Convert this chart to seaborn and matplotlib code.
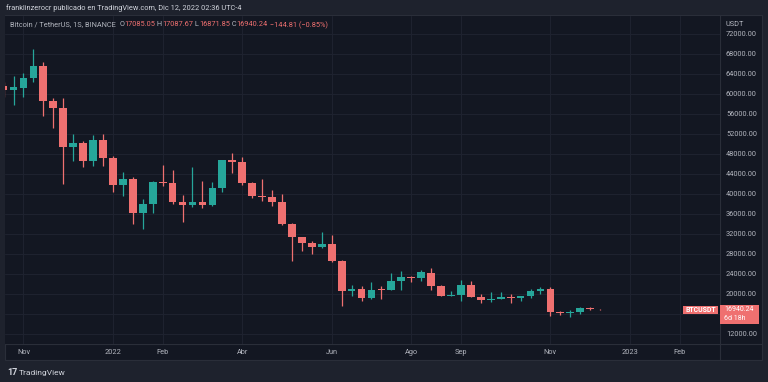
import numpy as np
import pandas as pd
import seaborn as sns
import matplotlib.pyplot as plt
from matplotlib.patches import Rectangle
from matplotlib.lines import Line2D

# velas semanales BTCUSDT (Binance), lunes de cada semana
weeks = pd.date_range("2021-10-18", "2022-12-12", freq="7D").strftime("%Y-%m-%d").tolist()
opens = [61530, 60860, 61300, 63270, 65500, 58620, 57270, 49400, 50100, 46680,
         50780, 47290, 41860, 43080, 36280, 37900, 42400, 42200, 38300, 37700,
         38420, 37780, 41260, 46820, 46400, 42160, 39680, 39450, 38470, 34060,
         31300, 30290, 29450, 29920, 26570, 20550, 21030, 19300, 20850, 20790,
         22580, 23300, 23180, 24300, 21520, 19560, 19830, 21830, 19420, 18800,
         19050, 19380, 19180, 19570, 20630, 20900, 16330, 16280, 16430, 17120,
         17085.05]
highs = [62500, 63700, 64270, 69000, 66500, 59300, 59200, 52000, 50600, 51800,
         52100, 47570, 44500, 43500, 38920, 42650, 45820, 44760, 39840, 45400,
         42600, 42330, 46830, 48190, 47450, 42420, 43000, 40800, 39980, 34240,
         31330, 30670, 32400, 31780, 26900, 21860, 21540, 22500, 21600, 24280,
         24670, 23650, 24900, 25210, 21820, 20580, 22800, 22670, 19960, 20390,
         20470, 19950, 19700, 21090, 21480, 21470, 16700, 16810, 17320, 17420,
         17087.67]
lows = [59500, 57800, 59400, 62330, 55600, 53260, 42000, 46670, 45400, 45560,
        45680, 40500, 39650, 34000, 32920, 36250, 41700, 38000, 34320, 37400,
        37150, 37580, 40470, 44200, 41870, 39200, 38540, 37700, 33710, 26700,
        28630, 28020, 29280, 26500, 17620, 19640, 18630, 19050, 18910, 20730,
        20710, 22400, 22660, 20760, 19520, 19520, 18540, 19320, 18130, 18470,
        18950, 18190, 18650, 19250, 20050, 15590, 15820, 15480, 16000, 16730,
        16871.85]
closes = [60860, 61300, 63270, 65500, 58620, 57270, 49400, 50100, 46680, 50780,
          47290, 41860, 43080, 36280, 37900, 42400, 42200, 38300, 37700, 38420,
          37780, 41260, 46820, 46400, 42160, 39680, 39450, 38470, 34060, 31300,
          30290, 29450, 29920, 26570, 20550, 21030, 19300, 20850, 20790, 22580,
          23300, 23180, 24300, 21520, 19560, 19830, 21830, 19420, 18800, 19050,
          19380, 19180, 19570, 20630, 20900, 16330, 16280, 16430, 17120, 17085,
          16940.24]

tick_dates = ["2021-11-01", "2022-01-03", "2022-02-07", "2022-04-04", "2022-06-06",
              "2022-08-01", "2022-09-05", "2022-11-07", "2023-01-02", "2023-02-06"]
tick_labels = ["Nov", "2022", "Feb", "Abr", "Jun", "Ago", "Sep", "Nov", "2023", "Feb"]
price_ticks = list(range(12000, 72001, 4000))

GREEN = "#26a69a"
RED = "#ef7070"
PANE = "#131722"
OUTER = "#1e222d"
BORDER = "#2a2e39"
GRID = "#1f2330"
TXT = "#b2b5be"

df = pd.DataFrame({"week": pd.to_datetime(weeks), "open": opens, "high": highs,
                   "low": lows, "close": closes})
start = df["week"].iloc[0]
df["pos"] = (df["week"] - start).dt.days / 7
tick_pos = [(pd.Timestamp(d) - start).days / 7 for d in tick_dates]

sns.set_theme(style="dark")
plt.rcParams["font.family"] = ["Roboto", "DejaVu Sans"]

W, H = 768, 382
fig = plt.figure(figsize=(W / 100, H / 100), dpi=100, facecolor=OUTER)


def fx(px):
    return px / W


def fy(py):
    return 1 - py / H


# panel del grafico (detras de los ejes)
fig.patches.append(Rectangle((fx(5), fy(360)), fx(762) - fx(5), fy(15) - fy(360),
                             transform=fig.transFigure, facecolor=PANE,
                             edgecolor=BORDER, lw=0.8, zorder=-5))
fig.lines.append(Line2D([fx(720), fx(720)], [fy(15), fy(360)], transform=fig.transFigure,
                        color=BORDER, lw=0.8, zorder=-4))
fig.lines.append(Line2D([fx(5), fx(762)], [fy(344), fy(344)], transform=fig.transFigure,
                        color=BORDER, lw=0.8, zorder=-4))

ax = fig.add_axes([fx(5), fy(344), fx(720) - fx(5), fy(15.5) - fy(344)])
ax.set_facecolor(PANE)

up = df["close"] >= df["open"]
colors = np.where(up, GREEN, RED)
ax.vlines(df["pos"], df["low"], df["high"], colors=colors, lw=0.9, zorder=2)
body_bottom = np.minimum(df["open"], df["close"])
body_h = np.maximum((df["close"] - df["open"]).abs(), 130)
ax.bar(df["pos"], body_h, bottom=body_bottom, width=0.78, color=colors, linewidth=0, zorder=3)

ax.set_xlim((5 - 3.6) / 9.942, (720 - 3.6) / 9.942)
ax.set_ylim(10000, 75700)
ax.yaxis.tick_right()
ax.set_yticks(price_ticks)
# la etiqueta de 16000 queda tapada por la del ultimo precio
ax.set_yticklabels(["" if v == 16000 else f"{v:.2f}" for v in price_ticks])
ax.set_xticks(tick_pos)
ax.set_xticklabels(tick_labels)
ax.tick_params(axis="y", length=0, pad=4.3, labelsize=5.3, labelcolor=TXT)
ax.tick_params(axis="x", length=0, pad=3.5, labelsize=5.3, labelcolor=TXT)
ax.grid(True, color=GRID, lw=0.7)
for s in ax.spines.values():
    s.set_visible(False)

# etiquetas de precio
y_last = ax.transData.transform((0, closes[-1]))[1] / H
px_h = 1 / H
fig.patches.append(Rectangle((fx(720), y_last - 14.5 * px_h), fx(759) - fx(720), 18.5 * px_h,
                             transform=fig.transFigure, facecolor=RED, lw=0, zorder=5))
fig.text(fx(724), y_last + 3.5 * px_h, f"{closes[-1]:.2f}\n6d 18h", color="white",
         fontsize=5.0, va="top", linespacing=1.35, zorder=6)
fig.patches.append(Rectangle((fx(683), y_last - 5 * px_h), fx(718) - fx(683), 8.5 * px_h,
                             transform=fig.transFigure, facecolor=RED, lw=0, zorder=5))
fig.text(fx(700.5), y_last - 0.8 * px_h, "BTCUSDT", color="white", fontsize=5.0,
         fontweight="bold", ha="center", va="center", zorder=6)

fig.text(fx(726), fy(24), "USDT", color=TXT, fontsize=5.3, va="center")

# cabecera
fig.text(fx(6), fy(8), "franklinzerocr publicado en TradingView.com, Dic 12, 2022 02:36 UTC-4",
         color="#d1d4dc", fontsize=5.3, va="center")

pieces = [("Bitcoin / TetherUS, 1S, BINANCE  ", TXT), ("O", TXT), ("17085.05", RED),
          (" H", TXT), ("17087.67", RED), (" L", TXT), ("16871.85", RED),
          (" C", TXT), ("16940.24", RED), (" \u2212144.81 (\u22120.85%)", RED)]
renderer = fig.canvas.get_renderer()
x = fx(10)
for s, c in pieces:
    t = fig.text(x, fy(25), s, color=c, fontsize=5.3, va="center")
    bb = t.get_window_extent(renderer=renderer)
    x += bb.width / W

# pie
fig.text(fx(7), fy(372.5), "17", color="#d1d4dc", fontsize=6.5, fontweight="bold", va="center")
fig.text(fx(19), fy(372.5), "TradingView", color="#d1d4dc", fontsize=6, va="center")

fig.savefig("out.png", dpi=100, facecolor=OUTER)
